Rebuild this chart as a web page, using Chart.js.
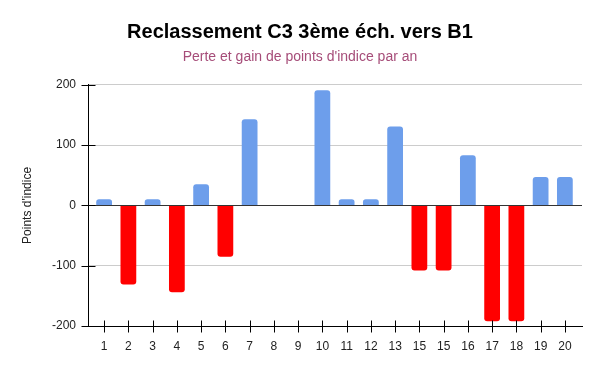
<!DOCTYPE html>
<html>
<head>
<meta charset="utf-8">
<script src="https://cdn.jsdelivr.net/npm/chart.js@4"></script>
<style>
  html, body { margin: 0; padding: 0; background: #fff; }
  #wrap { width: 600px; height: 371px; }
</style>
</head>
<body>
<div id="wrap"><canvas id="c" width="600" height="371"></canvas></div>
<script>
const categories = ["1","2","3","4","5","6","7","8","9","10","11","12","13","15","15","16","17","18","19","20"];
const values = [10, -131, 10, -144, 35, -85, 143, 0, 0, 191, 10, 10, 131, -108, -108, 83, -192, -192, 47, 47];
const yTicks = [-200, -100, 0, 100, 200];
const titleText = "Reclassement C3 3ème éch. vers B1";
const subtitleText = "Perte et gain de points d'indice par an";
const yTitle = "Points d'indice";

const FONT = "'Liberation Sans', Arial, sans-serif";

const adjust = {
  id: 'adjust',
  afterLayout(chart) {
    // centre title and subtitle on the full canvas width
    chart.boxes.forEach(b => {
      if (b.options && (b.options.text === titleText || b.options.text === subtitleText)) {
        b.left = 0; b.right = chart.width; b.width = chart.width;
      }
    });
    // inner inset of the category band inside the plot frame
    const x = chart.scales.x;
    const a = chart.chartArea;
    x._startPixel = a.left + 4;
    x._endPixel = a.right - 5;
    x._length = x._endPixel - x._startPixel;
  },
  afterDraw(chart) {
    const ctx = chart.ctx;
    const x = chart.scales.x, y = chart.scales.y;
    ctx.save();
    ctx.strokeStyle = '#000';
    ctx.lineWidth = 1;
    const yb = Math.round(chart.chartArea.bottom) + 0.5;
    x.ticks.forEach((t, i) => {
      const px = Math.round(x.getPixelForTick(i)) + 0.5;
      ctx.beginPath(); ctx.moveTo(px, yb - 6); ctx.lineTo(px, yb + 6); ctx.stroke();
    });
    const xl = Math.round(chart.chartArea.left) + 0.5;
    y.ticks.forEach((t, i) => {
      const py = Math.round(y.getPixelForTick(i)) + 0.5;
      ctx.beginPath(); ctx.moveTo(xl - 7, py); ctx.lineTo(xl + 7, py); ctx.stroke();
    });
    ctx.restore();
  }
};

new Chart(document.getElementById('c'), {
  type: 'bar',
  data: {
    labels: categories,
    datasets: [{
      data: values,
      backgroundColor: values.map(v => v < 0 ? '#ff0000' : '#6d9eeb'),
      borderRadius: 3,
      borderSkipped: 'start',
      barPercentage: 0.65,
      categoryPercentage: 1.0
    }]
  },
  options: {
    responsive: false,
    animation: false,
    layout: { padding: { left: 0, right: 18, top: 0, bottom: 0 } },
    plugins: {
      legend: { display: false },
      tooltip: { enabled: false },
      title: {
        display: true, text: titleText, color: '#000',
        font: { family: FONT, size: 20, weight: 'bold' },
        padding: { top: 20, bottom: 5 }
      },
      subtitle: {
        display: true, text: subtitleText, color: '#a64d79',
        font: { family: FONT, size: 14 },
        padding: { top: 0, bottom: 19 }
      }
    },
    scales: {
      x: {
        offset: true,
        grid: { display: false, drawTicks: false },
        border: { display: true, color: '#000', width: 1 },
        ticks: { color: '#222', font: { family: FONT, size: 12 }, padding: 13, autoSkip: false, maxRotation: 0 },
        afterFit(s) { s.height = 45; }
      },
      y: {
        min: -200, max: 200,
        afterBuildTicks(s) { s.ticks = yTicks.map(v => ({ value: v })); },
        grid: {
          drawTicks: false,
          color: c => c.tick && c.tick.value === 0 ? '#333' : '#cccccc',
          lineWidth: 1
        },
        border: { display: true, color: '#000', width: 1 },
        ticks: { color: '#222', font: { family: FONT, size: 12 }, padding: 12 },
        title: {
          display: true, text: yTitle, color: '#222',
          font: { family: FONT, size: 12 },
          padding: { top: 20, bottom: 0 }
        },
        afterFit(s) { s.width = 88; }
      }
    }
  },
  plugins: [adjust]
});
</script>
</body>
</html>
